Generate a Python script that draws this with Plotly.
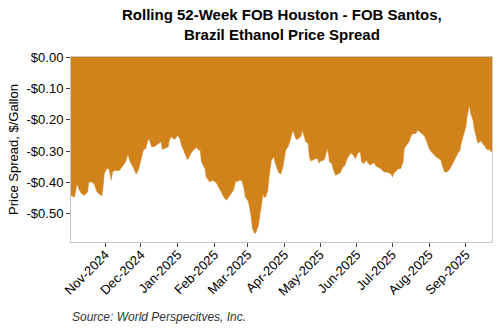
import plotly.graph_objects as go

# Rolling 52-week FOB Houston minus FOB Santos ethanol spread ($/gallon)
dates = [
    "2024-10-03", "2024-10-06", "2024-10-08", "2024-10-10", "2024-10-12", "2024-10-14",
    "2024-10-17", "2024-10-18", "2024-10-21", "2024-10-23", "2024-10-25", "2024-10-28",
    "2024-10-29", "2024-10-30", "2024-10-31",
    "2024-11-02", "2024-11-04", "2024-11-06", "2024-11-07", "2024-11-09", "2024-11-11",
    "2024-11-13", "2024-11-15", "2024-11-18", "2024-11-20", "2024-11-22", "2024-11-25",
    "2024-11-27", "2024-11-29",
    "2024-12-01", "2024-12-03", "2024-12-05", "2024-12-07", "2024-12-08", "2024-12-10",
    "2024-12-12", "2024-12-14", "2024-12-16", "2024-12-18", "2024-12-19", "2024-12-21",
    "2024-12-24", "2024-12-25", "2024-12-27", "2024-12-29", "2024-12-31",
    "2025-01-01", "2025-01-03", "2025-01-04", "2025-01-06", "2025-01-09", "2025-01-10",
    "2025-01-12", "2025-01-14", "2025-01-16", "2025-01-17", "2025-01-18", "2025-01-20",
    "2025-01-21", "2025-01-24", "2025-01-25", "2025-01-27", "2025-01-28", "2025-01-30",
    "2025-02-01", "2025-02-03", "2025-02-05", "2025-02-07", "2025-02-09", "2025-02-11",
    "2025-02-13", "2025-02-15", "2025-02-17", "2025-02-19", "2025-02-20", "2025-02-22",
    "2025-02-24", "2025-02-26", "2025-02-27",
    "2025-03-01", "2025-03-02", "2025-03-04", "2025-03-05", "2025-03-07", "2025-03-08",
    "2025-03-10", "2025-03-11", "2025-03-13", "2025-03-14", "2025-03-15", "2025-03-16",
    "2025-03-18", "2025-03-19", "2025-03-21", "2025-03-23", "2025-03-24", "2025-03-26",
    "2025-03-27", "2025-03-29", "2025-03-31",
    "2025-04-02", "2025-04-04", "2025-04-06", "2025-04-07", "2025-04-08", "2025-04-10",
    "2025-04-11", "2025-04-13", "2025-04-15", "2025-04-16", "2025-04-18", "2025-04-19",
    "2025-04-21", "2025-04-22", "2025-04-23", "2025-04-25", "2025-04-27", "2025-04-29",
    "2025-04-30",
    "2025-05-02", "2025-05-04", "2025-05-05", "2025-05-07", "2025-05-08", "2025-05-09",
    "2025-05-11", "2025-05-12", "2025-05-14", "2025-05-16", "2025-05-18", "2025-05-20",
    "2025-05-22", "2025-05-24", "2025-05-26", "2025-05-27", "2025-05-29", "2025-05-31",
    "2025-06-02", "2025-06-04", "2025-06-05", "2025-06-07", "2025-06-09", "2025-06-10",
    "2025-06-12", "2025-06-14", "2025-06-16", "2025-06-17", "2025-06-20", "2025-06-22",
    "2025-06-24", "2025-06-26", "2025-06-28", "2025-06-30",
    "2025-07-01", "2025-07-02", "2025-07-04", "2025-07-06", "2025-07-08", "2025-07-10",
    "2025-07-11", "2025-07-13", "2025-07-15", "2025-07-17", "2025-07-19", "2025-07-21",
    "2025-07-22", "2025-07-24", "2025-07-26", "2025-07-28", "2025-07-30",
    "2025-08-01", "2025-08-03", "2025-08-05", "2025-08-07", "2025-08-09", "2025-08-11",
    "2025-08-12", "2025-08-14", "2025-08-15", "2025-08-17", "2025-08-19", "2025-08-21",
    "2025-08-23", "2025-08-25", "2025-08-27", "2025-08-28", "2025-08-30",
    "2025-09-01", "2025-09-02", "2025-09-04", "2025-09-05", "2025-09-07", "2025-09-08",
    "2025-09-10", "2025-09-11", "2025-09-13", "2025-09-14", "2025-09-15", "2025-09-17",
    "2025-09-18", "2025-09-20", "2025-09-21", "2025-09-22", "2025-09-23",
]

spread = [
    -0.441, -0.447, -0.404, -0.425, -0.436, -0.441,
    -0.431, -0.399, -0.399, -0.409, -0.431, -0.441,
    -0.443, -0.415, -0.372,
    -0.356, -0.356, -0.393, -0.367, -0.361, -0.363,
    -0.361, -0.351, -0.335, -0.311, -0.335, -0.356,
    -0.374, -0.358,
    -0.324, -0.297, -0.292, -0.263, -0.263, -0.286,
    -0.286, -0.281, -0.276, -0.270, -0.295, -0.292,
    -0.286, -0.263, -0.254, -0.263, -0.256,
    -0.249, -0.263, -0.281, -0.297, -0.327, -0.324,
    -0.308, -0.297, -0.292, -0.286, -0.295, -0.297,
    -0.335, -0.356, -0.383, -0.396, -0.399, -0.393,
    -0.396, -0.404, -0.420, -0.434, -0.447, -0.457,
    -0.447, -0.436, -0.425, -0.393, -0.399, -0.393,
    -0.393, -0.420, -0.447,
    -0.457, -0.468, -0.511, -0.548, -0.564, -0.559,
    -0.537, -0.511, -0.457, -0.436, -0.447, -0.447,
    -0.425, -0.383, -0.329, -0.319, -0.335, -0.361,
    -0.368, -0.373, -0.345,
    -0.297, -0.286, -0.265, -0.244, -0.233, -0.254,
    -0.263, -0.260, -0.252, -0.233, -0.260, -0.270,
    -0.276, -0.319, -0.331, -0.329, -0.324, -0.324,
    -0.338,
    -0.331, -0.329, -0.324, -0.292, -0.308, -0.335,
    -0.340, -0.356, -0.377, -0.374, -0.369, -0.353,
    -0.345, -0.324, -0.310, -0.305, -0.313, -0.324,
    -0.305, -0.303, -0.335, -0.340, -0.329, -0.335,
    -0.345, -0.340, -0.338, -0.348, -0.353, -0.359,
    -0.367, -0.367, -0.369, -0.374,
    -0.383, -0.372, -0.364, -0.356, -0.356, -0.335,
    -0.292, -0.281, -0.270, -0.249, -0.244, -0.244,
    -0.233, -0.238, -0.244, -0.252, -0.270,
    -0.292, -0.303, -0.313, -0.319, -0.324, -0.329,
    -0.345, -0.367, -0.367, -0.364, -0.353, -0.340,
    -0.324, -0.308, -0.297, -0.276, -0.249,
    -0.222, -0.190, -0.153, -0.180, -0.201, -0.228,
    -0.254, -0.274, -0.270, -0.267, -0.276, -0.284,
    -0.292, -0.297, -0.292, -0.303, -0.297,
]

y_tick_vals = [0.0, -0.1, -0.2, -0.3, -0.4, -0.5]
y_tick_text = ["$0.00", "-$0.10", "-$0.20", "-$0.30", "-$0.40", "-$0.50"]
x_tick_vals = [
    "2024-11-01", "2024-12-01", "2025-01-01", "2025-02-01", "2025-03-01", "2025-04-01",
    "2025-05-01", "2025-06-01", "2025-07-01", "2025-08-01", "2025-09-01",
]

chart_title = "Rolling 52-Week FOB Houston - FOB Santos,<br>Brazil Ethanol Price Spread"
source_note = "Source: World Perspecitves, Inc."

FILL = "#D2821A"
FONT = "Liberation Sans, Arial, sans-serif"

fig = go.Figure(
    go.Scatter(
        x=dates,
        y=spread,
        mode="lines",
        line=dict(color=FILL, width=0.5),
        fill="tozeroy",
        fillcolor=FILL,
        hoverinfo="x+y",
    )
)

fig.update_layout(
    width=500,
    height=330,
    margin=dict(l=71, r=8, t=57, b=88),
    paper_bgcolor="white",
    plot_bgcolor="white",
    showlegend=False,
    font=dict(family=FONT, size=13, color="#000000"),
    xaxis=dict(
        type="date",
        range=["2024-10-03", "2025-09-23"],
        tickvals=x_tick_vals,
        tickformat="%b-%Y",
        tickangle=-45,
        ticks="outside",
        ticklen=4,
        tickcolor="#404040",
        ticklabelstandoff=-5,
        showgrid=False,
        zeroline=False,
        showline=True,
        linecolor="#C8C8C8",
        linewidth=1,
        mirror=True,
        tickfont=dict(family=FONT, size=13, color="#000000"),
    ),
    yaxis=dict(
        range=[-0.59, 0],
        tickvals=y_tick_vals,
        ticktext=y_tick_text,
        ticks="outside",
        ticklen=4,
        tickcolor="#404040",
        showgrid=False,
        zeroline=False,
        showline=True,
        linecolor="#C8C8C8",
        linewidth=1,
        mirror=True,
        tickfont=dict(family=FONT, size=13, color="#000000"),
        title=dict(text="Price Spread, $/Gallon", font=dict(family=FONT, size=13), standoff=4),
    ),
    annotations=[
        dict(
            text="<b>" + chart_title + "</b>",
            xref="paper",
            yref="paper",
            x=0.5,
            y=1,
            xanchor="center",
            yanchor="bottom",
            yshift=12,
            showarrow=False,
            font=dict(family=FONT, size=15, color="#000000"),
        ),
        dict(
            text="<i>" + source_note + "</i>",
            xref="paper",
            yref="paper",
            x=-0.002,
            y=-0.405,
            xanchor="left",
            yanchor="middle",
            showarrow=False,
            font=dict(family=FONT, size=12, color="#333333"),
        ),
    ],
)

fig.write_html("out.html")
